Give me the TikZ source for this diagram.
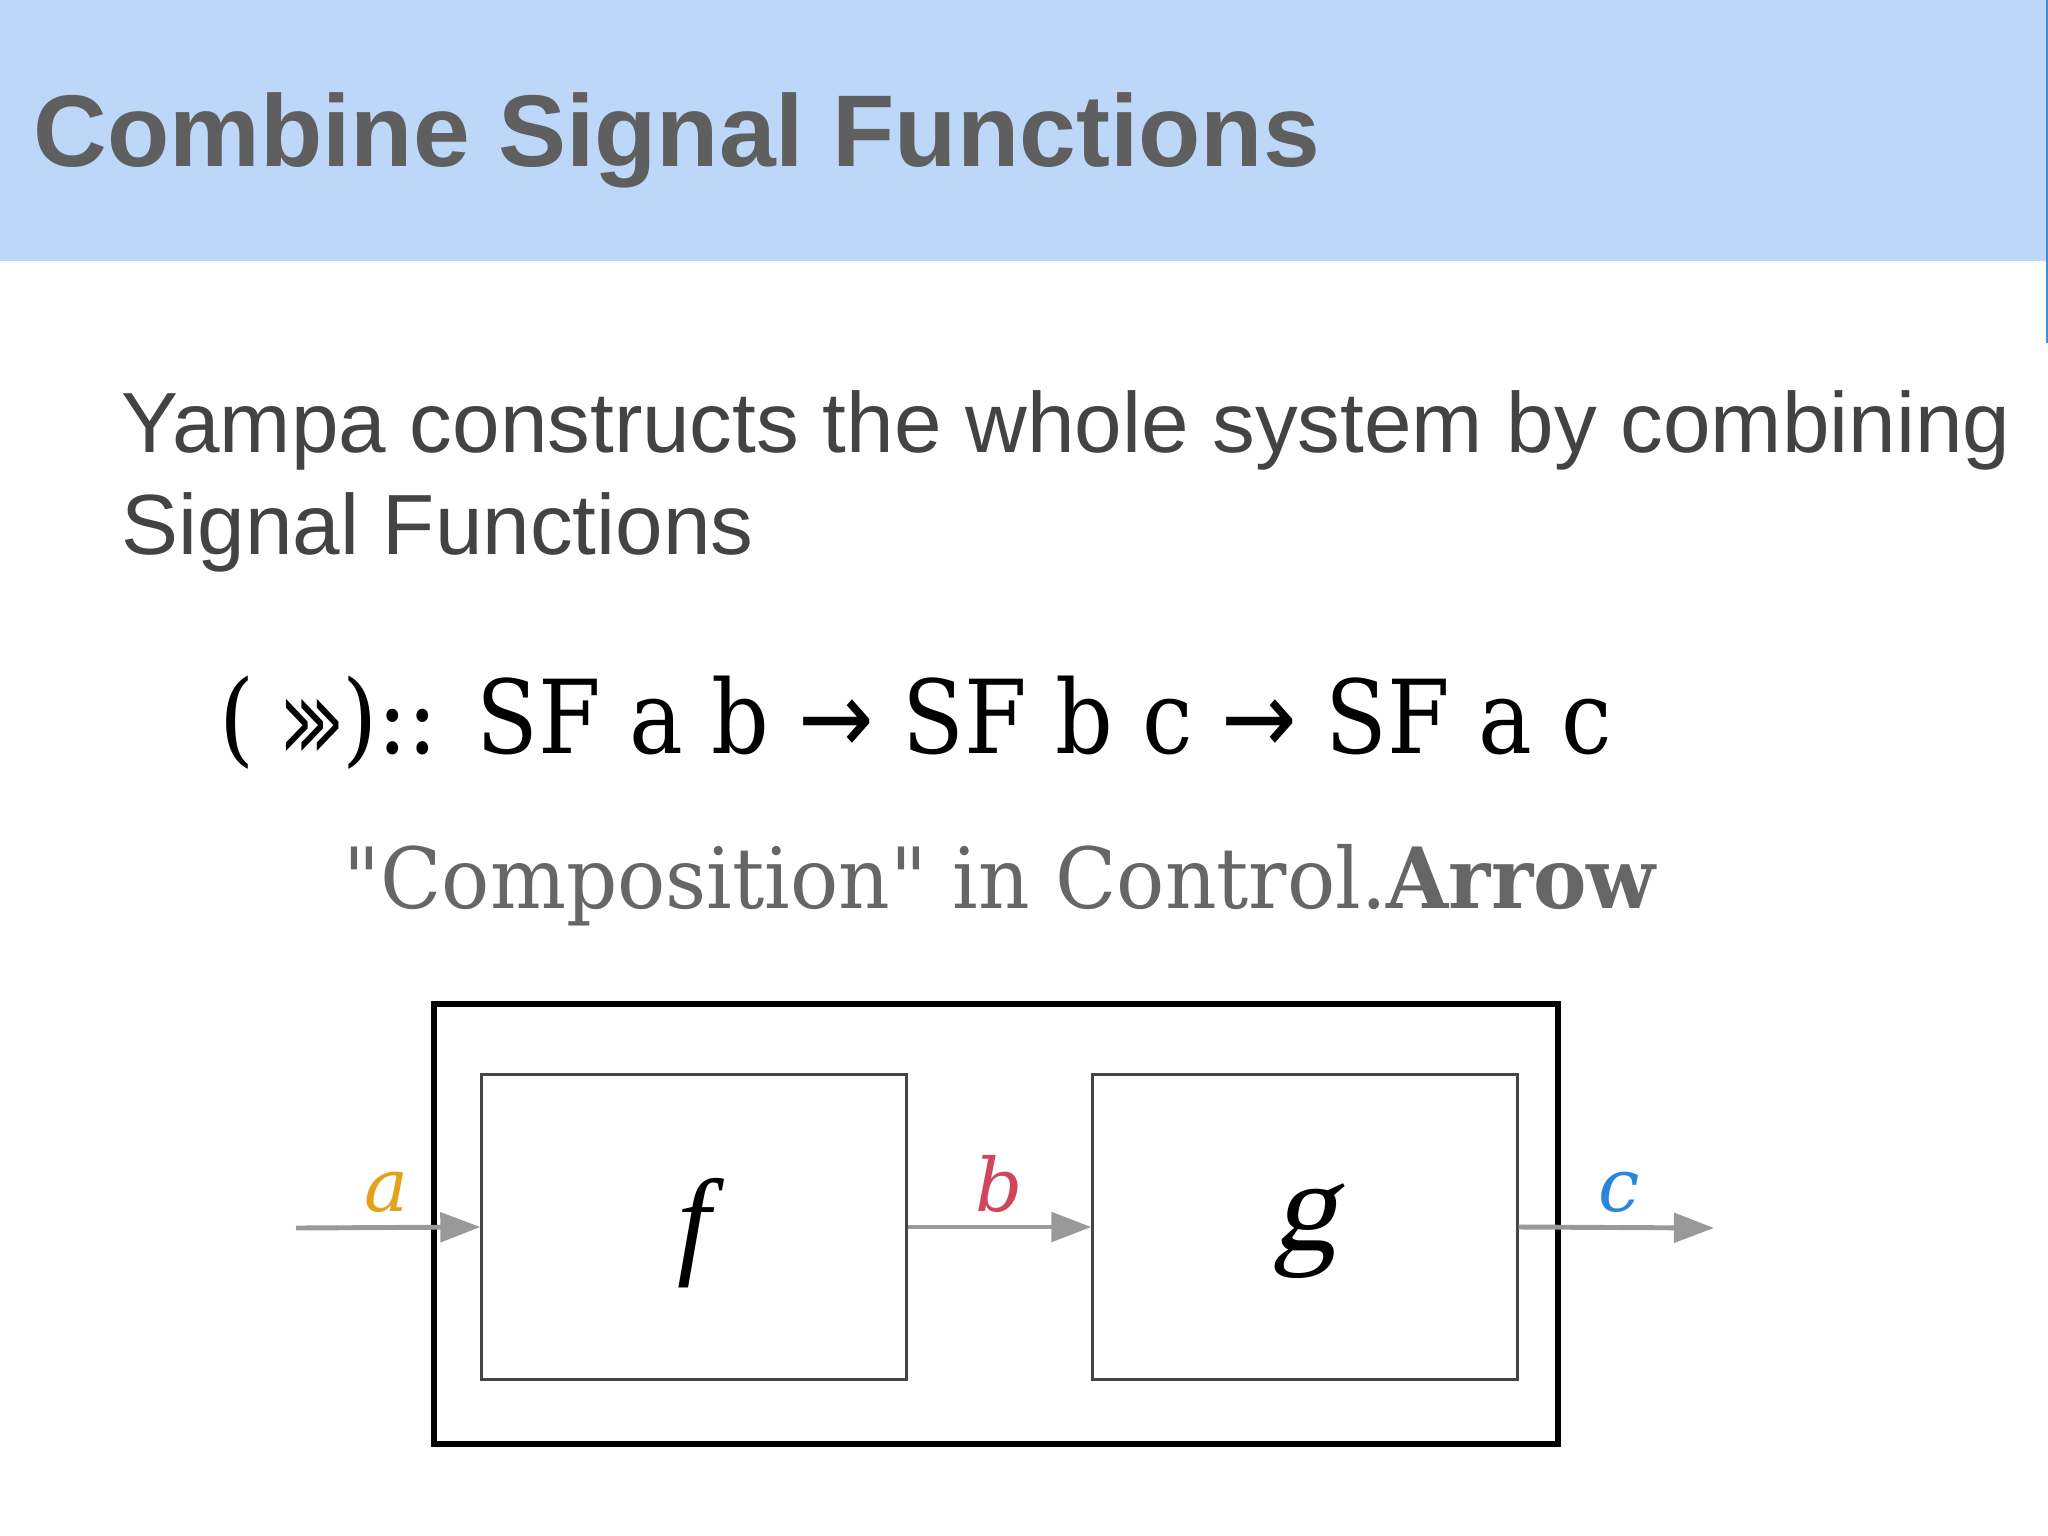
\documentclass[tikz,border=0pt]{standalone}
\usepackage{fontspec}
\usepackage{tikz}
\usetikzlibrary{arrows.meta,positioning}
\setmainfont{Liberation Sans}
\newfontfamily\serifface{DejaVu Serif}
\newfontfamily\boxface{Liberation Serif}
\newfontfamily\gface[FakeSlant=0.2]{Liberation Serif}
\newfontfamily\symface{DejaVu Sans}
\definecolor{bandblue}{HTML}{BCD7F8}
\definecolor{edgeblue}{HTML}{3A8EDC}
\definecolor{titlegray}{HTML}{5F5F5F}
\definecolor{bodygray}{HTML}{434343}
\definecolor{notegray}{HTML}{666666}
\definecolor{wiregray}{HTML}{999999}
\definecolor{boxgray}{HTML}{444444}
\definecolor{sigorange}{HTML}{E3A21A}
\definecolor{sigred}{HTML}{D2455A}
\definecolor{sigblue}{HTML}{2A86D8}
\tikzset{
  txt/.style={anchor=base west,inner sep=0},
  sfbox/.style={draw=boxgray,line width=0.85pt,inner sep=0,
    minimum width=4.24cm,minimum height=3.04cm},
  wire/.style={draw=wiregray,line width=1.4pt,
    -{Triangle[length=11.4pt,width=8.3pt]}},
  sig/.style={anchor=base,inner sep=0,font=\serifface\itshape\fontsize{21}{25}\selectfont}
}
\begin{document}
\begin{tikzpicture}[x=0.01cm,y=-0.01cm]
\useasboundingbox (0,0) rectangle (2048,1536);
% header band
\fill[bandblue] (0,0) rectangle (2048,261);
\draw[edgeblue,line width=0.6pt] (2047,0) -- (2047,343);
\node[txt,text=titlegray] (title) at (33,166)
  {\fontsize{29}{35}\selectfont\bfseries Combine Signal Functions};
% text
\node[txt,text=bodygray] (body1) at (121,452)
  {\fontsize{24.3}{29}\selectfont Yampa constructs the whole system by combining};
\node[txt,text=bodygray] (body2) at (121,554)
  {\fontsize{24.3}{29}\selectfont Signal Functions};
\node[txt] (formula) at (219,753)
  {\scalebox{0.885}[1]{\serifface\fontsize{29}{35}\selectfont ( {\symface\scalebox{0.6}[1.15]{\fontsize{22}{26}\selectfont ⋙}}):: SF a b {\symface →} SF b c {\symface →} SF a c}};
\node[txt,text=notegray] (note) at (343,908)
  {\scalebox{0.95}[1]{\serifface\fontsize{24}{29}\selectfont "Composition" in Control.\textbf{Arrow}}};
% diagram
\node[draw=black,line width=1.6pt,inner sep=0,minimum width=11.23cm,
  minimum height=4.4cm] (outer) at (996,1224) {};
\node[sfbox] (fbox) at (694,1227)
  {\raisebox{-0.35cm}[0pt][0pt]{\boxface\itshape\fontsize{34}{40}\selectfont f}};
\node[sfbox] (gbox) at (1305,1227)
  {\raisebox{-0.23cm}[0pt][0pt]{\gface\fontsize{37}{44}\selectfont g}};
\coordinate (ain) at (296,1228);
\coordinate (cout) at (1714,1228);
\draw[wire] (ain) -- (fbox.west);
\draw[wire] (fbox.east) -- (gbox.west);
\draw[wire] (gbox.east) -- (cout);
\node[sig,text=sigorange] (alabel) at (387,1211) {a};
\node[sig,text=sigred] (blabel) at (999,1211) {b};
\node[sig,text=sigblue] (clabel) at (1619,1211) {c};
\end{tikzpicture}
\end{document}
